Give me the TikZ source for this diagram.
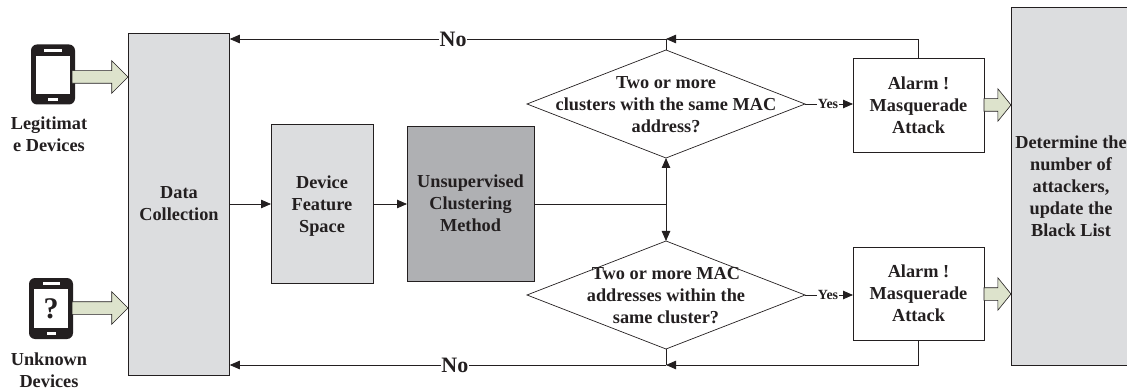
\documentclass[tikz,border=0pt]{standalone}
\usepackage{fontspec}
\setmainfont{Liberation Serif}
\usetikzlibrary{arrows.meta,shapes.geometric,shapes.arrows}
\definecolor{ink}{HTML}{231F20}
\definecolor{lightbox}{HTML}{DCDDDF}
\definecolor{darkbox}{HTML}{AFB0B3}
\definecolor{blockarrow}{HTML}{DDE3CC}
\tikzset{
  x=1pt,y=-1pt,
  every node/.style={text=ink,font=\fontsize{18.3}{22}\selectfont\bfseries,align=center,inner sep=0pt,outer sep=0pt},
  boxed/.style={draw=ink,line width=0.7pt,rectangle,minimum width=#1},
  boxed/.default=10,
  decision/.style={draw=ink,line width=0.7pt,diamond,aspect=2.574,minimum width=278,minimum height=108},
  link/.style={draw=ink,line width=0.8pt},
  flow/.style={link,-{Triangle[length=10pt,width=8.5pt]}},
  bigleft/.style={draw=ink,line width=0.6pt,fill=blockarrow,single arrow,anchor=tip,inner ysep=6pt,inner xsep=0pt,single arrow head extend=10pt,single arrow tip angle=90,single arrow head indent=0pt,minimum width=32,minimum height=56},
  bigright/.style={draw=ink,line width=0.6pt,fill=blockarrow,single arrow,anchor=tip,inner ysep=6pt,inner xsep=0pt,single arrow head extend=10pt,single arrow tip angle=102,single arrow head indent=0pt,minimum width=32,minimum height=27},
  notag/.style={fill=white,inner xsep=0.5pt,inner ysep=0pt,font=\fontsize{22}{22}\selectfont\bfseries},
  yestag/.style={fill=white,inner xsep=1pt,inner ysep=1pt,font=\fontsize{14}{16}\selectfont\bfseries},
  phone/.style={fill=ink,rectangle,rounded corners=6pt,minimum width=44,minimum height=60},
  screen/.style={fill=white,rectangle,minimum width=34,minimum height=38.5},
  slot/.style={fill=white,rectangle,minimum height=3},
}
\begin{document}
\begin{tikzpicture}
\useasboundingbox (0,0) rectangle (1127,390);
% boxes
\node[boxed=101.5,fill=lightbox,minimum height=342] (data) at (179,204) {Data\\Collection};
\node[boxed=102,fill=lightbox,minimum height=159] (space) at (322,203.5) {\rule{0pt}{18.5pt}Device\\Feature\\Space};
\node[boxed=127,fill=darkbox,minimum height=155] (cluster) at (470.5,203.5) {Unsupervised\\Clustering\\Method};
\node[decision] (d1) at (666,104) {};
\node (t1text) at (666,104.5) {Two or more\\clusters with the same MAC\\address?};
\node[decision] (d2) at (666,295) {};
\node (t2text) at (666,295.5) {Two or more MAC\\addresses within the\\same cluster?};
\node[boxed=131,fill=white,minimum height=94] (a1) at (918.5,105) {Alarm !\\Masquerade\\Attack};
\node[boxed=131,fill=white,minimum height=93] (a2) at (918.5,293.5) {Alarm !\\Masquerade\\Attack};
\node[boxed=120,fill=lightbox,minimum height=358] (final) at (1071,186.5) {Determine the\\number of\\attackers,\\update the\\Black List};
% junction points
\coordinate (ctop) at (666,39);
\coordinate (cbot) at (666,365);
\coordinate (cmid) at (666,204);
\coordinate (rtop) at (a1.north |- ctop);
\coordinate (rbot) at (a2.south |- cbot);
% connectors
\draw[flow] (data.east |- cmid) -- (space.west |- cmid);
\draw[flow] (space.east |- cmid) -- (cluster.west |- cmid);
\draw[link] (cluster.east |- cmid) -- (cmid);
\draw[flow] (cmid) -- (d1.south);
\draw[flow] (cmid) -- (d2.north);
\draw[link] (a1.north) -- (rtop);
\draw[flow] (rtop) -- (ctop);
\draw[link] (ctop) -- (d1.north);
\draw[flow] (ctop) -- node[notag,pos=0.488]{No} (data.east |- ctop);
\draw[link] (a2.south) -- (rbot);
\draw[flow] (rbot) -- (cbot);
\draw[link] (cbot) -- (d2.south);
\draw[flow] (cbot) -- node[notag,pos=0.484]{No} (data.east |- cbot);
\draw[flow] (d1.east) -- node[yestag,pos=0.48]{Yes} (a1.west |- d1.east);
\draw[flow] (d2.east) -- node[yestag,pos=0.48]{Yes} (a2.west |- d2.east);
% phones
\node[phone] (p1) at (53,74.5) {};
\node[screen] (s1) at (53,75) {};
\node[slot,minimum width=18] (u1) at (53,50.5) {};
\node[slot,minimum width=10] (b1) at (53,99.5) {};
\node[phone,minimum height=61] (p2) at (51,308.5) {};
\node[screen,font=\fontsize{30}{30}\selectfont\bfseries] (s2) at (51,308.5) {?};
\node[slot,minimum width=17] (u2) at (51.5,283.5) {};
\node[slot,minimum width=9] (b2) at (51.5,333.5) {};
% block arrows
\coordinate (t1) at (128,77);
\coordinate (t2) at (128,308);
\coordinate (t3) at (1011,105);
\coordinate (t4) at (1011,294);
\node[bigleft] (g1) at (t1) {};
\node[bigleft] (g2) at (t2) {};
\node[bigright] (g3) at (t3) {};
\node[bigright] (g4) at (t4) {};
% captions
\node (l1) at (49,134) {Legitimat\\e Devices};
\node (l2) at (49,370) {Unknown\\Devices};
\end{tikzpicture}
\end{document}
